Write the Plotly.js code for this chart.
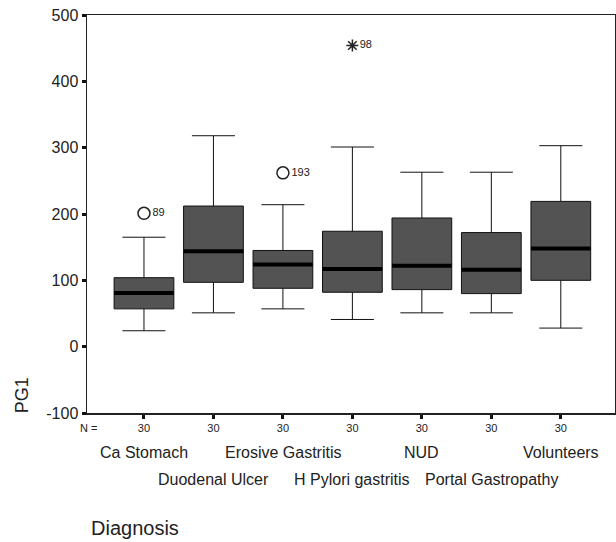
<!DOCTYPE html>
<html>
<head>
<meta charset="utf-8">
<script src="https://cdn.plot.ly/plotly-3.0.1.min.js"></script>
<style>html,body{margin:0;padding:0;background:#fff;}#chart{width:616px;height:542px;}</style>
</head>
<body>
<div id="chart"></div>
<script>
var categories = ["Ca Stomach", "Duodenal Ulcer", "Erosive Gastritis", "H Pylori gastritis", "NUD", "Portal Gastropathy", "Volunteers"];
var nLabels = ["30", "30", "30", "30", "30", "30", "30"];
var lowerWhisker = [24, 51, 57, 41, 51, 51, 28];
var q1 = [57, 97, 88, 82, 86, 80, 100];
var medians = [81, 144, 124, 117, 122, 116, 148];
var q3 = [104, 212, 145, 174, 194, 172, 219];
var upperWhisker = [165, 318, 214, 301, 263, 263, 303];

var yTickVals = [-100, 0, 100, 200, 300, 400, 500];
var yTickText = ["-100", "0", "100", "200", "300", "400", "500"];

var outlierCats = ["Ca Stomach", "Erosive Gastritis"];
var outlierVals = [201, 262];
var outlierIds = ["89", "193"];
var extremeCats = ["H Pylori gastritis"];
var extremeVals = [454];
var extremeIds = ["98"];

var traces = [
  {
    type: "box",
    x: categories,
    q1: q1, median: medians, q3: q3,
    lowerfence: lowerWhisker, upperfence: upperWhisker,
    boxpoints: false,
    width: 0.86,
    whiskerwidth: 0.72,
    fillcolor: "#535353",
    line: {color: "#111", width: 1},
    hoverinfo: "skip",
    showlegend: false
  },
  {
    type: "scatter",
    mode: "markers",
    x: categories,
    y: medians,
    marker: {symbol: "line-ew", size: 42.5, line: {color: "#000", width: 4}},
    hoverinfo: "skip",
    showlegend: false
  },
  {
    type: "scatter",
    mode: "markers+text",
    x: outlierCats,
    y: outlierVals,
    text: outlierIds,
    textposition: "middle right",
    textfont: {size: 11, color: "#222", family: "Liberation Sans, Arial, sans-serif"},
    marker: {symbol: "circle-open", size: 12, color: "#222", line: {width: 1.5}},
    hoverinfo: "skip",
    showlegend: false
  },
  {
    type: "scatter",
    mode: "markers+text",
    x: extremeCats,
    y: extremeVals,
    text: extremeIds,
    textposition: "middle right",
    textfont: {size: 11, color: "#222", family: "Liberation Sans, Arial, sans-serif"},
    marker: {symbol: "asterisk-open", size: 10, color: "#222", line: {width: 1.5, color: "#222"}},
    hoverinfo: "skip",
    showlegend: false
  }
];

var annotations = [
  {xref: "paper", yref: "paper", x: 0.003, y: -0.038, text: "N =", showarrow: false,
   xanchor: "center", yanchor: "middle", font: {size: 11, color: "#222"}},
  {xref: "paper", yref: "paper", x: -0.123, y: 0.045, text: "PG1", showarrow: false, textangle: -90,
   xanchor: "center", yanchor: "middle", font: {size: 18, color: "#222"}},
  {xref: "paper", yref: "paper", x: 0.004, y: -0.289, text: "Diagnosis", showarrow: false,
   xanchor: "left", yanchor: "middle", font: {size: 20, color: "#222"}}
];
categories.forEach(function (c, i) {
  annotations.push({
    xref: "x", yref: "paper", x: c, y: (i % 2 === 0) ? -0.098 : -0.166,
    text: c, showarrow: false, xanchor: "center", yanchor: "middle",
    font: {size: 16, color: "#222"}
  });
});

var layout = {
  width: 616, height: 542,
  margin: {l: 87, r: 1, t: 15, b: 129},
  paper_bgcolor: "#fff", plot_bgcolor: "#fff",
  font: {family: "Liberation Sans, Arial, sans-serif", color: "#222"},
  showlegend: false,
  xaxis: {
    type: "category",
    range: [-0.82, 6.78],
    tickmode: "array", tickvals: categories, ticktext: nLabels,
    ticks: "outside", ticklen: 4, tickwidth: 3, tickcolor: "#111",
    tickfont: {size: 11, color: "#222"},
    showline: true, linecolor: "#222", linewidth: 1.5, mirror: true,
    showgrid: false, zeroline: false
  },
  yaxis: {
    range: [-100, 500],
    tickmode: "array", tickvals: yTickVals, ticktext: yTickText,
    ticks: "outside", ticklen: 4, tickwidth: 3, tickcolor: "#111",
    tickfont: {size: 16, color: "#222"},
    showline: true, linecolor: "#222", linewidth: 1.5, mirror: true,
    showgrid: false, zeroline: false
  },
  annotations: annotations
};

Plotly.newPlot("chart", traces, layout, {displayModeBar: false, staticPlot: true});
</script>
</body>
</html>
